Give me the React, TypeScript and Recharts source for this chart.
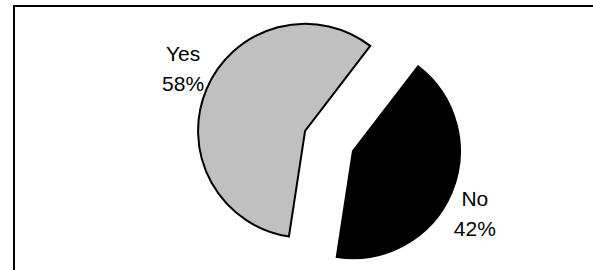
import { PieChart, Pie, Cell, Sector } from "recharts";

const answers = ["Yes", "No"];
const shares = [58, 42];
const sliceColors = ["#c0c0c0", "#000000"];

const RADIAN = Math.PI / 180;
const EXPLODE = 26;

const data = answers.map((name, i) => ({ name, value: shares[i] }));

function ExplodedSector(props: any) {
    const { cx, cy, midAngle } = props;
    const dx = EXPLODE * Math.cos(-midAngle * RADIAN);
    const dy = EXPLODE * Math.sin(-midAngle * RADIAN);
    return <Sector {...props} cx={cx + dx} cy={cy + dy} />;
}

function renderLabel(props: any) {
    const { cx, cy, midAngle, outerRadius, name, percent } = props;
    const angle = (midAngle - 4) * RADIAN;
    const ox = cx + EXPLODE * Math.cos(-midAngle * RADIAN);
    const oy = cy + EXPLODE * Math.sin(-midAngle * RADIAN);
    const dist = outerRadius + 30;
    const x = ox + dist * Math.cos(-angle);
    const y = oy + dist * Math.sin(-angle);
    return (
        <text
            x={x}
            y={y}
            textAnchor="middle"
            fill="#000"
            fontSize={21}
            fontFamily="'Liberation Sans', Arial, sans-serif"
        >
            <tspan x={x} y={y - 15} dominantBaseline="central">{name}</tspan>
            <tspan x={x} y={y + 15} dominantBaseline="central">{`${Math.round(percent * 100)}%`}</tspan>
        </text>
    );
}

export default function App() {
    return (
        <div style={{ position: "fixed", left: 0, top: 0, width: 593, height: 270, overflow: "hidden", background: "#fff" }}>
            {/* chart area frame, only top and left edges fall inside the picture */}
            <div
                style={{
                    position: "absolute",
                    left: 13,
                    top: 5,
                    width: 640,
                    height: 320,
                    border: "2px solid #000",
                    boxSizing: "border-box",
                }}
            />
            <div style={{ position: "absolute", left: 0, top: 0 }}>
                <PieChart width={593} height={270}>
                    <Pie
                        data={data}
                        dataKey="value"
                        nameKey="name"
                        cx={324}
                        cy={136}
                        outerRadius={107}
                        startAngle={52.5}
                        endAngle={412.5}
                        stroke="#000"
                        strokeWidth={2}
                        shape={ExplodedSector}
                        label={renderLabel}
                        labelLine={false}
                        isAnimationActive={false}
                    >
                        {data.map((d, i) => (
                            <Cell key={d.name} fill={sliceColors[i]} />
                        ))}
                    </Pie>
                </PieChart>
            </div>
        </div>
    );
}
